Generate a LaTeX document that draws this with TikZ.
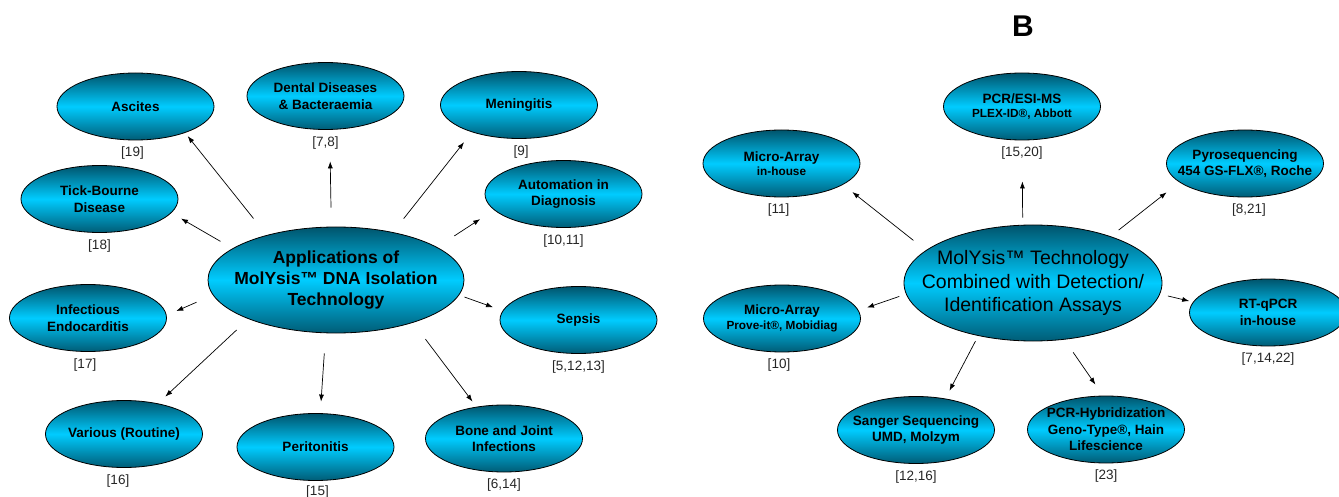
\documentclass[tikz,border=0pt]{standalone}
\usepackage{fontspec}
\setmainfont{Liberation Sans}
\usetikzlibrary{positioning, shapes, arrows.meta}
\definecolor{bubbletop}{RGB}{0,84,108}
\definecolor{bubblemid}{RGB}{0,204,255}
\definecolor{bubblebot}{RGB}{0,92,118}
\newcommand{\mainsize}{\fontsize{13.5}{16.5}\selectfont}
\newcommand{\subsize}{\fontsize{11.8}{14}\selectfont}
\tikzstyle{bubble} = [ellipse, draw, line width=0.8pt, top color=bubbletop, bottom color=bubblebot, middle color=bubblemid, inner xsep=-30pt, inner ysep=-12pt, minimum width=157pt, minimum height=67pt, align=center, font=\mainsize\bfseries]
\tikzstyle{hub}    = [bubble]
\tikzstyle{refs}   = [font=\mainsize, text=black!85, node distance=47pt]

\begin{document}
\begin{tikzpicture}[x=1pt, y=-1pt, line width=0.7pt, >={Latex[length=7pt,width=5pt]}]
	\useasboundingbox (0,0) rectangle (1339,497);

	\node [hub, minimum width=256pt, minimum height=106pt, font=\fontsize{17.5}{21}\selectfont\bfseries] (app) at (336,280) {Applications of\\MolYsis™ DNA Isolation\\Technology};
	\node [bubble] (asc) at (135.5,106.5) {Ascites};
	\node [bubble] (den) at (325.5,96) {Dental Diseases\\\& Bacteraemia};
	\node [bubble] (men) at (519,105) {Meningitis};
	\node [bubble] (tick) at (99.5,199) {Tick-Bourne\\Disease};
	\node [bubble] (auto) at (563.5,194) {Automation in\\Diagnosis};
	\node [bubble] (inf) at (88,318) {Infectious\\Endocarditis};
	\node [bubble] (sep) at (578.5,320) {Sepsis};
	\node [bubble] (var) at (124,434) {Various (Routine)};
	\node [bubble] (per) at (315.5,447) {Peritonitis};
	\node [bubble] (bone) at (504,438.5) {Bone and Joint\\Infections};

	\node [refs, below of=asc, xshift=-3pt] (asc-ref) {[19]};
	\node [refs, below of=den] (den-ref) {[7,8]};
	\node [refs, below of=men, xshift=2pt] (men-ref) {[9]};
	\node [refs, below of=tick] (tick-ref) {[18]};
	\node [refs, below of=auto] (auto-ref) {[10,11]};
	\node [refs, below of=inf, xshift=-3pt] (inf-ref) {[17]};
	\node [refs, below of=sep] (sep-ref) {[5,12,13]};
	\node [refs, below of=var, xshift=-6pt] (var-ref) {[16]};
	\node [refs, below of=per, node distance=45pt, xshift=2pt] (per-ref) {[15]};
	\node [refs, below of=bone] (bone-ref) {[6,14]};

	\node [font=\fontsize{30}{36}\selectfont\bfseries] (panel) at (1023,26) {B};
	\node [hub, minimum width=258pt, minimum height=116pt, font=\fontsize{19.5}{23.5}\selectfont] (comb) at (1033,283) {MolYsis™ Technology\\Combined with Detection/\\Identification Assays};
	\node [bubble] (mia) at (781.5,163.5) {Micro-Array\\[-2pt]\subsize in-house};
	\node [bubble] (pcr) at (1022,106.5) {PCR/ESI-MS\\[-2pt]\subsize PLEX-ID®, Abbott};
	\node [bubble] (pyro) at (1245,163.5) {Pyrosequencing\\454 GS-FLX®, Roche};
	\node [bubble] (mib) at (782,318.5) {Micro-Array\\[-2pt]\subsize Prove-it®, Mobidiag};
	\node [bubble] (rtq) at (1268,312.5) {RT-qPCR\\in-house};
	\node [bubble] (san) at (916,430) {Sanger Sequencing\\UMD, Molzym};
	\node [bubble] (hyb) at (1106,429.5) {PCR-Hybridization\\Geno-Type®, Hain\\Lifescience};

	\node [refs, below of=mia, xshift=-3pt] (mia-ref) {[11]};
	\node [refs, below of=pcr] (pcr-ref) {[15,20]};
	\node [refs, below of=pyro, xshift=4pt] (pyro-ref) {[8,21]};
	\node [refs, below of=mib, xshift=-3pt] (mib-ref) {[10]};
	\node [refs, below of=rtq] (rtq-ref) {[7,14,22]};
	\node [refs, below of=san] (san-ref) {[12,16]};
	\node [refs, below of=hyb] (hyb-ref) {[23]};

	\draw [->, shorten <=21.2pt, shorten >=4.2pt] (app.147.5) -- (asc.-28.2);
	\draw [->, shorten <=19pt, shorten >=31.5pt] (app.95) -- (den.-83.5);
	\draw [->, shorten <=17.2pt, shorten >=12.7pt] (app.40.3) -- (men.210.5);
	\draw [->, shorten <=14pt, shorten >=11.1pt] (app.163.4) -- (tick.-11.5);
	\draw [->, shorten <=20.5pt, shorten >=16.5pt] (app.18.6) -- (auto.193.5);
	\draw [->, shorten <=17.8pt, shorten >=10.5pt] (app.187.9) -- (inf.2.5);
	\draw [->, shorten <=5.6pt, shorten >=10.2pt] (app.-7) -- (sep.173.7);
	\draw [->, shorten <=16pt, shorten >=10pt] (app.204.5) -- (var.42);
	\draw [->, shorten <=20.2pt, shorten >=11.6pt] (app.259.9) -- (per.82.2);
	\draw [->, shorten <=20.6pt, shorten >=6.5pt] (app.-29) -- (bone.131.9);

	\draw [->, shorten <=15.8pt, shorten >=11.8pt] (comb.163.6) -- (mia.-19.4);
	\draw [->, shorten <=7.2pt, shorten >=41pt] (comb.100.8) -- (pcr.-90);
	\draw [->, shorten <=10.1pt, shorten >=16.2pt] (comb.31.7) -- (pyro.196);
	\draw [->, shorten <=7.1pt, shorten >=8.8pt] (comb.185.4) -- (mib.6.8);
	\draw [->, shorten <=8.1pt, shorten >=3.9pt] (comb.-5.5) -- (rtq.172.7);
	\draw [->, shorten <=5.9pt, shorten >=8.9pt] (comb.224.9) -- (san.47.5);
	\draw [->, shorten <=15.4pt, shorten >=13.4pt] (comb.-61.8) -- (hyb.95.6);
\end{tikzpicture}
\end{document}
